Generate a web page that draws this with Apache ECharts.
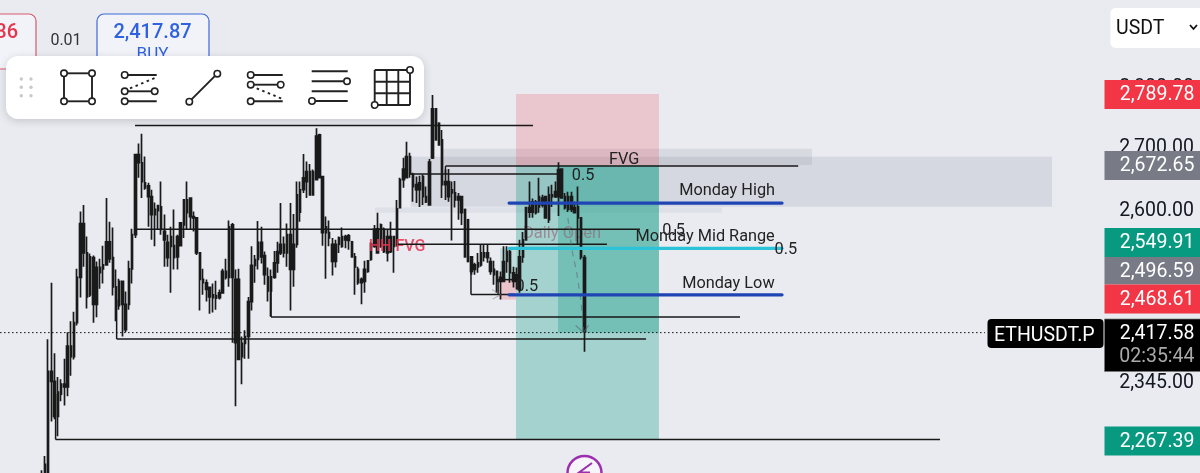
<!DOCTYPE html>
<html><head><meta charset="utf-8">
<style>html,body{margin:0;padding:0;background:#e9ebf1;overflow:hidden}#c{width:1200px;height:473px}</style>
<script src="https://cdn.jsdelivr.net/npm/echarts@6/dist/echarts.min.js"></script>
</head><body><div id="c"></div>
<script>
// ===== Data: ETHUSDT.P candles, prices =====
const candleHigh = [2226,2245,2408,2491,2388,2354,2351,2380,2418,2434,2448,2512,2600,2610,2561,2535,2532,2523,2527,2547,2621,2584,2575,2511,2497,2493,2478,2524,2573,2690,2708,2724,2687,2645,2634,2614,2610,2647,2595,2564,2576,2603,2564,2582,2618,2647,2621,2600,2590,2536,2512,2496,2484,2490,2494,2481,2512,2527,2586,2582,2511,2512,2412,2421,2470,2546,2533,2585,2576,2538,2514,2511,2539,2553,2613,2561,2581,2613,2596,2647,2647,2691,2679,2675,2666,2733,2724,2655,2592,2586,2559,2556,2561,2575,2564,2565,2553,2536,2515,2499,2524,2524,2552,2579,2598,2581,2575,2572,2584,2561,2618,2653,2685,2711,2693,2661,2655,2656,2658,2639,2683,2788,2765,2743,2730,2666,2667,2647,2648,2629,2623,2603,2587,2530,2521,2536,2549,2549,2549,2529,2524,2508,2508,2546,2546,2541,2515,2514,2556,2568,2607,2647,2620,2618,2653,2626,2623,2639,2642,2647,2678,2667,2629,2631,2631,2615,2639,2590,2533];
const candleBodyTop = [2220,2234,2362,2362,2348,2333,2344,2344,2398,2398,2432,2499,2581,2581,2536,2530,2529,2514,2514,2518,2553,2553,2529,2485,2493,2493,2459,2512,2564,2690,2690,2677,2645,2640,2623,2603,2609,2607,2569,2552,2561,2547,2561,2582,2618,2618,2621,2592,2590,2536,2496,2491,2484,2473,2472,2476,2508,2508,2576,2579,2496,2496,2402,2412,2463,2517,2526,2552,2552,2532,2500,2500,2521,2538,2549,2549,2564,2564,2549,2626,2634,2653,2663,2663,2663,2720,2722,2655,2576,2567,2549,2549,2559,2561,2561,2562,2553,2530,2511,2496,2511,2524,2550,2572,2573,2579,2572,2561,2561,2561,2604,2650,2667,2687,2687,2658,2642,2645,2655,2623,2678,2765,2765,2741,2714,2647,2647,2634,2629,2623,2623,2603,2587,2530,2518,2521,2536,2536,2536,2523,2511,2508,2499,2523,2538,2538,2506,2503,2530,2556,2606,2606,2615,2615,2623,2621,2623,2626,2626,2631,2666,2667,2623,2623,2623,2606,2607,2590,2529];
const candleBodyBottom = [2214,2212,2214,2348,2299,2299,2330,2340,2340,2383,2383,2432,2499,2536,2470,2473,2459,2459,2506,2512,2518,2527,2485,2457,2457,2459,2422,2459,2512,2564,2677,2647,2637,2623,2595,2595,2601,2572,2556,2529,2546,2529,2530,2547,2579,2598,2592,2590,2536,2496,2491,2481,2470,2469,2468,2469,2476,2499,2499,2499,2403,2379,2383,2402,2412,2463,2517,2526,2530,2503,2479,2479,2499,2521,2536,2536,2536,2511,2511,2549,2599,2634,2647,2626,2626,2650,2653,2567,2567,2559,2523,2523,2549,2546,2556,2555,2530,2515,2491,2491,2493,2508,2526,2546,2536,2546,2538,2536,2538,2546,2547,2606,2650,2653,2659,2639,2634,2634,2623,2615,2610,2685,2714,2706,2642,2642,2623,2629,2618,2618,2598,2530,2523,2508,2511,2515,2518,2530,2529,2508,2503,2493,2493,2493,2523,2506,2493,2493,2481,2530,2556,2599,2599,2598,2607,2610,2590,2587,2623,2623,2623,2621,2606,2603,2603,2598,2590,2530,2419];
const candleLow = [2205,2200,2201,2292,2295,2272,2320,2314,2327,2356,2379,2428,2469,2515,2453,2470,2432,2440,2482,2490,2518,2521,2472,2434,2451,2412,2418,2451,2490,2559,2653,2621,2634,2576,2556,2546,2572,2564,2515,2515,2476,2511,2511,2546,2559,2572,2572,2569,2533,2450,2473,2463,2445,2447,2451,2466,2475,2496,2485,2403,2313,2378,2344,2380,2380,2450,2491,2511,2520,2488,2463,2441,2497,2506,2533,2529,2515,2450,2485,2544,2584,2629,2621,2625,2626,2650,2653,2547,2497,2546,2502,2514,2536,2544,2543,2541,2530,2473,2488,2459,2476,2506,2524,2544,2536,2544,2536,2523,2536,2506,2546,2606,2637,2653,2653,2615,2613,2607,2610,2613,2610,2683,2714,2706,2621,2618,2615,2555,2606,2587,2579,2530,2523,2503,2503,2506,2515,2523,2521,2503,2488,2476,2466,2493,2506,2491,2484,2481,2476,2521,2556,2590,2590,2595,2598,2606,2590,2582,2607,2621,2593,2621,2603,2599,2599,2598,2549,2526,2390];

// Axis tick labels and price tags
const axisTicks = [2345, 2600, 2700, 2800];
const priceTagText = ['2,789.78','2,672.65','2,549.91','2,496.59','2,468.61','2,267.39'];
const lastPrice = 2417.58, lastPriceText = '2,417.58', countdownText = '02:35:44', symbolText = 'ETHUSDT.P';
const quoteCurrency = 'USDT', askText = '2,417.87', buyText = 'BUY', bidFragment = '86', lotText = '0.01';

// Position tool levels
const stopPrice = 2789.78, entryPrice = 2672.65, targetPrice = 2267.39;
const toolStartBar = 146.84, toolNowBar = 159.85, toolEndBar = 191.1;

// Supply zones [startBar,endBar,topPrice,bottomPrice]
const zoneStart = [123.6, 114.3, 103.2];
const zoneEnd = [238.5, 312.8, 210.6];
const zoneTop = [2699.4, 2686.5, 2605.9];
const zoneBottom = [2673.3, 2607.4, 2598];

// Trend-line segments
const segBar1 = [28.9,28.9,110.3,125,125,114,132.9,132.9,71,71,23.2,23.2,4.3,4.3,141.3,141.3];
const segBar2 = [152.1,185.2,175,234.2,125,159.85,146.5,132.9,216.2,71,187.1,23.2,278.1,4.3,148.1,141.3];
const segPrice1 = [2737.6,2572.4,2549.4,2671.6,2671.6,2659,2473.4,2473.4,2440.3,2440.3,2408.4,2408.4,2267.39,2267.39,2495.7,2495.7];
const segPrice2 = [2737.6,2572.4,2549.4,2671.6,2659,2659,2473.4,2518,2440.3,2495.7,2408.4,2466,2267.39,2330,2495.7,2473.4];

// Monday levels
const mondayHigh = 2613, mondayMid = 2543, mondayLow = 2473;
const mondayStartBar = 144.7, mondayEndBar = 229.2;

// Projected path
const pathBars = [162.9, 164.2, 165.6, 166.9, 167.8];
const pathPrices = [2590, 2539, 2507, 2466, 2420];
const arrowBars = [165.3, 167.8, 169.3];
const arrowPrices = [2428, 2418, 2428];
const smallArrowBars = [139.4, 142.2, 139.6];
const smallArrowPrices = [2481, 2473, 2467];

// Text annotations
const noteText = ['FVG','0.5','Monday High','Monday Mid Range','0.5','0.5','Monday Low','0.5'];
const noteBar = [180.3,167.6,212.2,205.4,195.6,230.4,212.6,150.2];
const notePrice = [2685,2659,2635.6,2564,2572.5,2543,2492.7,2488];
const fadedNote = 'Daily Open', fadedNoteBar = 161.1, fadedNotePrice = 2568.5;
const redNote = 'HH FVG', redNoteBar = 110, redNotePrice = 2548.6;

// ===== Rendering =====
const FONT = 'Roboto, sans-serif';
const candles = candleHigh.map((h,i)=>[i,candleBodyTop[i],candleBodyBottom[i],candleLow[i],h]);
const rectSeries = (name, rows, z) => ({
  type:'custom', name, z, clip:true, silent:true, coordinateSystem:'cartesian2d',
  encode:{x:[0,1],y:[2,3]},
  data:rows.map(r=>r.slice(0,4)),
  renderItem(p,api){
    const r=rows[p.dataIndex];
    const a=api.coord([r[0],r[2]]), b=api.coord([r[1],r[3]]);
    return {type:'rect',shape:{x:a[0],y:a[1],width:b[0]-a[0],height:b[1]-a[1]},style:{fill:r[4]}};
  }
});
const lineSeries=(name,bars,prices,style,z)=>({
  type:'line',name,z,data:bars.map((b,i)=>[b,prices[i]]),showSymbol:false,silent:true,animation:false,
  lineStyle:style,symbol:'none'
});
const noteSeries=(name,rows,style,z)=>({
  type:'custom',name,z,silent:true,coordinateSystem:'cartesian2d',clip:false,
  encode:{x:0,y:1},
  data:rows.map(r=>[r[1],r[2]]),
  renderItem(p,api){
    const r=rows[p.dataIndex], c=api.coord([r[1],r[2]]);
    return {type:'text',x:c[0],y:c[1]+2,style:Object.assign({text:r[0],textAlign:'center',textVerticalAlign:'middle'},style)};
  }
});

const teal='rgba(8,153,129,0.3)', pink='rgba(242,54,69,0.2)';
const zoneFill=['rgba(110,120,135,0.14)','rgba(110,120,135,0.16)','rgba(110,120,135,0.09)'];
const zones=zoneStart.map((s,i)=>[s,zoneEnd[i],zoneTop[i],zoneBottom[i],zoneFill[i]]);
const tool=[
  [toolStartBar,toolEndBar,stopPrice,entryPrice,pink],
  [toolStartBar,toolEndBar,entryPrice,targetPrice,teal],
  [toolNowBar,toolEndBar,entryPrice,lastPrice,teal],
  [141.9,toolStartBar,mondayMid,2495.7,'rgba(8,153,129,0.18)'],
  [141.9,toolStartBar,2495.7,2466,'rgba(242,54,69,0.22)']
];

const series=[
  rectSeries('zones',zones,1),
  rectSeries('tool',tool,2),
  noteSeries('daily',[[fadedNote,fadedNoteBar,fadedNotePrice]],{font:'400 16.5px '+FONT,fill:'rgba(150,90,110,0.6)'},3),
  {type:'candlestick',name:'ETHUSDT.P',z:4,clip:true,silent:true,barWidth:2,encode:{x:0,y:[1,2,3,4]},data:candles,
   itemStyle:{color:'#1a1a1a',color0:'#1a1a1a',borderColor:'#1a1a1a',borderColor0:'#1a1a1a',borderWidth:1.7}},
  noteSeries('red',[[redNote,redNoteBar,redNotePrice]],{font:'500 16px '+FONT,fill:'rgba(232,50,80,0.85)'},5),
];
segBar1.forEach((b,i)=>series.push(lineSeries('seg'+i,[b,segBar2[i]],[segPrice1[i],segPrice2[i]],{color:'#181818',width:1.5},6)));
[[mondayHigh,'#1f45b5'],[mondayMid,'#2cc3d8'],[mondayLow,'#1f45b5']].forEach((m,i)=>{
  series.push(lineSeries('monday'+i,[mondayStartBar,mondayEndBar],[m[0],m[0]],{color:m[1],width:3.2,cap:'round'},7));
});
series.push(lineSeries('path',pathBars,pathPrices,{color:'rgba(90,100,110,0.55)',width:1.2,type:[6,5]},6));
series.push(lineSeries('arrow',arrowBars,arrowPrices,{color:'rgba(90,100,110,0.6)',width:1.2},6));
series.push(lineSeries('smallArrow',smallArrowBars,smallArrowPrices,{color:'rgba(120,110,120,0.45)',width:1.1},6));
series.push(lineSeries('last',[-12.9,292],[lastPrice,lastPrice],{color:'#111',width:1,type:[1.5,2.5]},8));
series.push(noteSeries('notes',noteText.map((t,i)=>[t,noteBar[i],notePrice[i]]),{font:'400 16.3px '+FONT,fill:'#222'},9));

// Interface chrome
const g=[];
const T=(text,x,y,font,fill,align)=>g.push({type:'text',z:100,silent:true,style:{text,x,y,font:font+' '+FONT,fill,textAlign:align||'center',textVerticalAlign:'middle'}});
const R=(x,y,w,h,r,fill,extra)=>g.push({type:'rect',z:100,silent:true,shape:{x,y,width:w,height:h,r},style:Object.assign({fill},extra||{})});
const L=(x1,y1,x2,y2,dash)=>g.push({type:'line',z:102,silent:true,shape:{x1,y1,x2,y2},style:{stroke:'#222',lineWidth:1.9,lineDash:dash||null}});
const C=(cx,cy)=>g.push({type:'circle',z:103,silent:true,shape:{cx,cy,r:3.2},style:{fill:'#fff',stroke:'#222',lineWidth:1.6}});

// Tags
const tagY=[80,151,228,257,284.5,426.5];
const tagFill=['#f23645','#787b86','#089981','#787b86','#f23645','#089981'];
priceTagText.forEach((t,i)=>{
  R(1104.5,tagY[i],96,i==3?27.5:29,0,tagFill[i]);
  T(t,1194.5,tagY[i]+15.5,'400 19.5px','#fff','right');
});
R(1104.5,319,96,52.5,0,'#000',{stroke:'#777',lineWidth:0.7});
T(lastPriceText,1194.5,334,'400 19.5px','#fff','right');
T(countdownText,1194.5,357,'400 19.5px','#aaa','right');
R(987.5,319,116,29,4,'#000');
T(symbolText,994,336,'400 19.5px','#fff','left');
// Currency selector
R(1110.5,8,100,40,5,'#fff');
T(quoteCurrency,1116,29,'400 19.5px','#111','left');
g.push({type:'polyline',z:101,silent:true,shape:{points:[[1190,25],[1193.5,29],[1197,25]]},style:{fill:'none',stroke:'#111',lineWidth:1.8}});
// Trade buttons
R(-20,14,56,55,7,'#f2f3f8',{stroke:'#d9596c',lineWidth:1.2});
T(bidFragment,18,33,'500 20px','#e5364f','right');
T(lotText,66,41,'400 16px','#333');
R(97,14,112,55,7,'#f2f3f8',{stroke:'#3c6ad6',lineWidth:1.2});
T(askText,152.5,33,'500 20px','#2f62de');
T(buyText,152.5,55,'400 17px','#2f62de');
// Toolbar
R(6,56,418,63,12,'#fff',{shadowBlur:8,shadowColor:'rgba(0,0,0,0.16)',shadowOffsetY:2});
[21.3,31].forEach(x=>[79,87.3,95.7].forEach(y=>g.push({type:'circle',z:102,silent:true,shape:{cx:x,cy:y,r:1.7},style:{fill:'#c9c9c9'}})));
L(64,73.3,92,73.3);L(92,73.3,92,101.3);L(92,101.3,64,101.3);L(64,101.3,64,73.3);
[[64,73.3],[92,73.3],[64,101.3],[92,101.3]].forEach(c=>C(c[0],c[1]));
L(124.7,75,156.7,75);L(124.7,91.3,154.7,91.3);L(124.7,101.3,156.7,101.3);L(130,88.3,156.7,77.3,[2.5,3.5]);
[[124.7,75],[124.7,91.3],[154.7,91.3],[124.7,101.3]].forEach(c=>C(c[0],c[1]));
L(189.3,101.7,217.3,73.7);C(189.3,101.7);C(217.3,73.7);
L(250.7,75,282.7,75);L(250.7,84.7,280.7,84.7);L(250.7,101.3,282.7,101.3);L(256.7,88.3,281.7,98.7,[2.5,3.5]);
[[250.7,75],[250.7,84.7],[280.7,84.7],[250.7,101.3]].forEach(c=>C(c[0],c[1]));
[71.3,81.3,91.3,101].forEach(y=>L(311.7,y,347.7,y));C(347,81.3);C(312,101);
[374.7,386.7,398.3,410].forEach(x=>L(x,70,x,105));[70,81.7,93.3,105].forEach(y=>L(374.7,y,410,y));C(410,70);C(374.7,105);
// Bottom marker
g.push({type:'circle',z:101,silent:true,shape:{cx:584.5,cy:473,r:17},style:{fill:'#f5f5fa',stroke:'#9b2fae',lineWidth:2.5}});
g.push({type:'polyline',z:102,silent:true,shape:{points:[[592,463],[579,472.5],[590,472.5]]},style:{fill:'none',stroke:'#9b2fae',lineWidth:2}});

const chart=echarts.init(document.getElementById('c'),null,{renderer:'canvas'});
chart.setOption({
  animation:false,backgroundColor:'#e9ebf1',
  grid:{left:0,right:0,top:0,bottom:0,containLabel:false},
  xAxis:{type:'value',min:-12.91,max:358.6,show:false,splitLine:{show:false}},
  yAxis:{type:'log',min:2222.3,max:2951.6,position:'right',logBase:10,
    axisLine:{show:false},axisTick:{show:false},splitLine:{show:false},minorTick:{show:false},
    axisLabel:{inside:true,margin:6,customValues:axisTicks,color:'#131722',fontFamily:'Roboto',fontSize:19.5,
      formatter:v=>Number(v).toLocaleString('en-US',{minimumFractionDigits:2,maximumFractionDigits:2})}},
  tooltip:{show:false},legend:{show:false},
  series,
  graphic:{elements:g}
});
</script></body></html>
